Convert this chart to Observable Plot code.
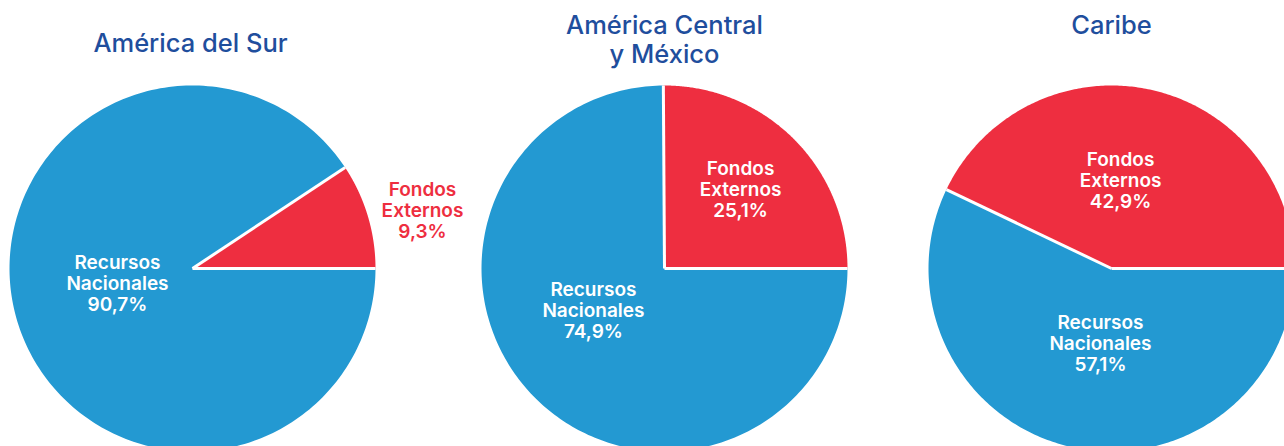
<!DOCTYPE html>
<html><head><meta charset="utf-8">
<script src="https://cdn.jsdelivr.net/npm/d3@7"></script>
<script src="https://cdn.jsdelivr.net/npm/@observablehq/plot@0.6"></script>
<style>body{margin:0;background:#fff;overflow:hidden}</style>
</head><body><div id="chart"></div>
<script>
// ---- data ----
const regions = ["América del Sur", "América Central\ny México", "Caribe"];
const categories = ["Fondos Externos", "Recursos Nacionales"];
const labelLines = ["Fondos\nExternos", "Recursos\nNacionales"];
const fondosExternos = [9.3, 25.1, 42.9];
const recursosNacionales = [90.7, 74.9, 57.1];

// ---- layout / style ----
const W = 1284, H = 446, R = 183;
const centers = [[192, 268], [664, 268], [1111, 268]];
const titleX = [190, 664, 1111];
const titleY = [42, 39, 24];
// label placement per pie for [Fondos, Recursos]: [radius as fraction of R, angle shift from mid-angle in degrees]
const labelPolar = [
  [[1.296, 2.6], [0.418, 5.45]],
  [[0.599, -0.9], [0.451, 14.6]],
  [[0.483, -6.9], [0.414, -4.4]]
];
const RED = "#ee2e40", BLUE = "#2399d2", TITLE = "#1f4e9d";

const fmt = v => v.toFixed(1).replace(".", ",") + "%";

const slices = [], seps = [], labels = [], titles = [];
const pie = d3.pie().sort(null).value(d => d.value)
  .startAngle(Math.PI / 2).endAngle(Math.PI / 2 - 2 * Math.PI);

regions.forEach((reg, i) => {
  const [cx, cy] = centers[i];
  const vals = [fondosExternos[i], recursosNacionales[i]];
  const arcs = pie(vals.map((v, j) => ({value: v, cat: categories[j], j})));
  titles.push({x: titleX[i], y: titleY[i], text: reg});
  arcs.forEach(a => {
    const id = i + "-" + a.data.j;
    const pts = [{id, cat: a.data.cat, x: cx, y: cy}];
    const n = 240;
    for (let k = 0; k <= n; k++) {
      const t = a.startAngle + (a.endAngle - a.startAngle) * k / n;
      pts.push({id, cat: a.data.cat, x: cx + R * Math.sin(t), y: cy - R * Math.cos(t)});
    }
    pts.push({id, cat: a.data.cat, x: cx, y: cy});
    slices.push(...pts);
    seps.push({x1: cx, y1: cy, x2: cx + R * Math.sin(a.startAngle), y2: cy - R * Math.cos(a.startAngle)});
    const [rf, shift] = labelPolar[i][a.data.j];
    const mid = (a.startAngle + a.endAngle) / 2 + shift * Math.PI / 180;
    const lr = rf * R;
    labels.push({x: cx + lr * Math.sin(mid), y: cy - lr * Math.cos(mid),
      text: labelLines[a.data.j] + "\n" + fmt(a.data.value),
      color: rf > 1 ? RED : "#ffffff"});
  });
});

const chart = Plot.plot({
  width: W, height: H,
  margin: 0,
  x: {domain: [0, W], range: [0, W], axis: null},
  y: {domain: [0, H], range: [0, H], axis: null},
  color: {domain: categories, range: [RED, BLUE]},
  style: {background: "#fff", overflow: "hidden"},
  marks: [
    Plot.line(slices, {x: "x", y: "y", z: "id", fill: "cat", stroke: null, curve: "linear"}),
    Plot.link(seps, {x1: "x1", y1: "y1", x2: "x2", y2: "y2", stroke: "#fff", strokeWidth: 3}),
    Plot.text(labels, {x: "x", y: "y", text: "text", fill: d => d.color,
      fontFamily: "Inter", fontWeight: 600, fontSize: 19, lineHeight: 1.09}),
    Plot.text(titles, {x: "x", y: "y", text: "text", fill: TITLE,
      fontFamily: "Inter", fontWeight: 500, fontSize: 25.5, lineHeight: 1.14})
  ]
});
document.getElementById("chart").appendChild(chart);
</script>
</body></html>
